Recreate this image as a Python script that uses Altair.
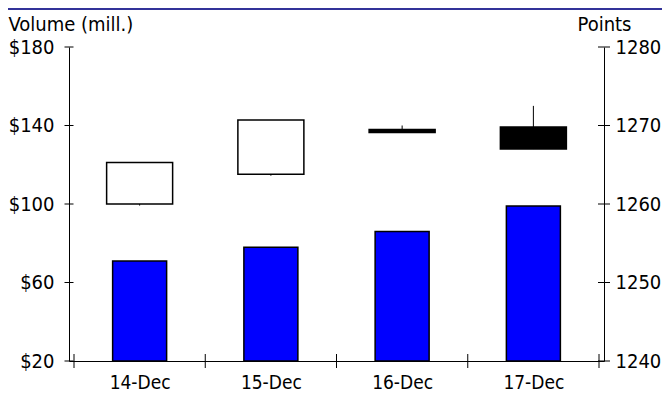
import altair as alt
import pandas as pd

dates = ["14-Dec", "15-Dec", "16-Dec", "17-Dec"]
volume = [71, 78, 86, 99]
open_p = [1260.0, 1263.8, 1269.5, 1269.8]
close_p = [1265.3, 1270.7, 1269.1, 1267.0]
high_p = [1265.3, 1270.7, 1270.0, 1272.5]
low_p = [1259.8, 1263.6, 1269.1, 1267.0]

left_ticks = [20, 60, 100, 140, 180]
right_ticks = [1240, 1250, 1260, 1270, 1280]
x_bounds = [-0.5, 0.5, 1.5, 2.5, 3.5]

W, H = 535, 314
FONT = "DejaVu Sans Condensed, Liberation Sans, sans-serif"
FS = 20

df = pd.DataFrame({"idx": list(range(len(dates))), "date": dates, "vol": volume,
                   "open": open_p, "close": close_p, "high": high_p, "low": low_p})
lt = pd.DataFrame({"vol": left_ticks})
rt = pd.DataFrame({"low": right_ticks})
xb = pd.DataFrame({"idx": x_bounds})

xdom = alt.Scale(domain=[-0.5, 3.5], nice=False, zero=False)
ldom = alt.Scale(domain=[20, 180], nice=False, zero=False)
rdom = alt.Scale(domain=[1240, 1280], nice=False, zero=False)

label_expr = "[" + ",".join("'%s'" % d for d in dates) + "][datum.value]"

xaxis = alt.Axis(values=[0, 1, 2, 3], labelExpr=label_expr, ticks=False, grid=False,
                 domain=True, domainColor="black", domainWidth=1, labelPadding=12,
                 labelFont=FONT, labelFontSize=19, labelColor="black", title=None)

laxis = alt.Axis(
    orient="left", values=left_ticks, format="$d", ticks=False, grid=False,
    domainColor="black", domainWidth=1, labelPadding=15, labelFont=FONT,
    labelFontSize=FS, labelColor="black", title="Volume (mill.)", titleAngle=0,
    titleX=-61, titleY=-17, titleAlign="left", titleBaseline="alphabetic",
    titleFont=FONT, titleFontSize=FS, titleFontWeight="normal", titleColor="black")

raxis = alt.Axis(
    orient="right", values=right_ticks, format="d", ticks=False, grid=False,
    domainColor="black", domainWidth=1, labelPadding=11, labelFont=FONT,
    labelFontSize=FS, labelColor="black", title="Points", titleAngle=0,
    titleX=-27, titleY=-17, titleAlign="left", titleBaseline="alphabetic",
    titleFont=FONT, titleFontSize=FS, titleFontWeight="normal", titleColor="black")

bars = alt.Chart(df).mark_bar(size=54, fill="#0000FF", stroke="black", strokeWidth=1.5).encode(
    x=alt.X("idx:Q", scale=xdom, axis=xaxis),
    y=alt.Y("vol:Q", scale=ldom, axis=laxis),
    y2=alt.datum(20),
)

lticks = alt.Chart(lt).mark_rule(color="black", strokeWidth=1).encode(
    y=alt.Y("vol:Q", scale=ldom, axis=laxis),
    x=alt.value(-4.5), x2=alt.value(4.5),
)

xticks = alt.Chart(xb).mark_rule(color="black", strokeWidth=1).encode(
    x=alt.X("idx:Q", scale=xdom, axis=xaxis),
    y=alt.value(H - 7), y2=alt.value(H + 7),
)

topline = alt.Chart(pd.DataFrame({"k": [0]})).mark_rule(color="#333399", strokeWidth=2).encode(
    x=alt.value(-61), x2=alt.value(W + 58), y=alt.value(-38),
)

groupA = alt.layer(bars, lticks, xticks, topline)

wick = alt.Chart(df).mark_rule(color="black", strokeWidth=1).encode(
    x=alt.X("idx:Q", scale=xdom, axis=xaxis),
    y=alt.Y("low:Q", scale=rdom, axis=raxis),
    y2="high:Q",
)

body = alt.Chart(df).transform_calculate(
    col="datum.close > datum.open ? 'white' : 'black'"
).mark_bar(size=66, stroke="black", strokeWidth=1.5).encode(
    x=alt.X("idx:Q", scale=xdom, axis=xaxis),
    y=alt.Y("open:Q", scale=rdom, axis=raxis),
    y2="close:Q",
    fill=alt.Fill("col:N", scale=None, legend=None),
)

rticks = alt.Chart(rt).mark_rule(color="black", strokeWidth=1).encode(
    y=alt.Y("low:Q", scale=rdom, axis=raxis),
    x=alt.value(W - 6), x2=alt.value(W + 6),
)

groupB = alt.layer(wick, body, rticks)

chart = alt.layer(groupA, groupB).resolve_scale(y="independent").properties(
    width=W, height=H,
    autosize=alt.AutoSizeParams(type="none"),
    padding={"left": 61, "top": 39, "right": 58, "bottom": 36},
    background="white",
).configure_view(stroke=None)

chart.save("out.html", embed_options={"renderer": "svg", "actions": False})
